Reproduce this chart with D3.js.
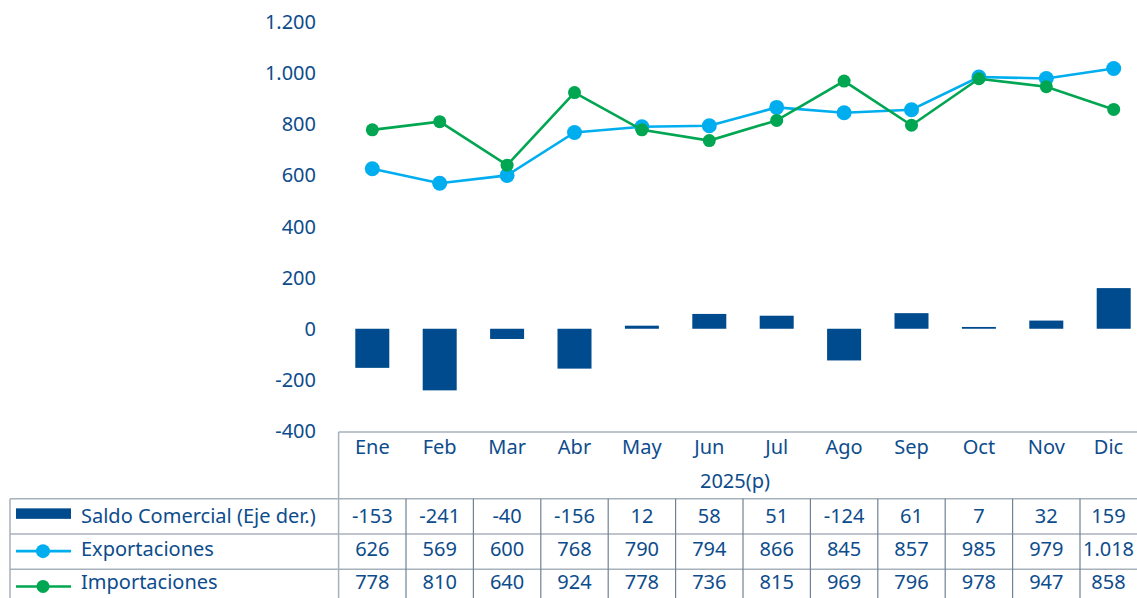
<!DOCTYPE html>
<html>
<head>
<meta charset="utf-8">
<script src="https://cdn.jsdelivr.net/npm/d3@7.9.0/dist/d3.min.js"></script>
<style>
  html, body { margin: 0; padding: 0; background: #fff; }
  svg { display: block; font-family: "Noto Sans", sans-serif; }
  .lbl { fill: #0d4c8c; font-size: 20px; }
</style>
</head>
<body>
<svg id="chart" width="1137" height="598"></svg>
<script>
const months = ['Ene', 'Feb', 'Mar', 'Abr', 'May', 'Jun', 'Jul', 'Ago', 'Sep', 'Oct', 'Nov', 'Dic'];
const saldo = [-153, -241, -40, -156, 12, 58, 51, -124, 61, 7, 32, 159];
const exportaciones = [626, 569, 600, 768, 790, 794, 866, 845, 857, 985, 979, 1018];
const importaciones = [778, 810, 640, 924, 778, 736, 815, 969, 796, 978, 947, 858];
const yTicks = [-400, -200, 0, 200, 400, 600, 800, 1000, 1200];
const yearLabel = '2025(p)';

const locale = d3.formatLocale({ decimal: ',', thousands: '.', grouping: [3], currency: ['', ''] });
const fmt = locale.format(',d');
const fmtNum = v => fmt(v).replace('−', '-');

const svg = d3.select('#chart');
const W = 1137;
const tableLeft = 10, colLeft = 338.6, colW = 67.4;

const x = d3.scaleBand().domain(months).range([colLeft, colLeft + colW * months.length]).padding(0);
const y = d3.scaleLinear().domain([-400, 1200]).range([431, 22]);

const blue = '#00aeef', green = '#00a651', navy = '#004b8d';
const gridCol = '#a7b1bb', vCol = '#6f8296';

// y axis labels (no line)
svg.append('g').selectAll('text').data(yTicks).join('text')
  .attr('class', 'lbl')
  .attr('x', 316)
  .attr('y', d => y(d))
  .attr('dy', '0.35em')
  .attr('text-anchor', 'end')
  .text(d => fmtNum(d));

// bars
const bw = 34;
svg.append('g').selectAll('rect').data(saldo).join('rect')
  .attr('x', (d, i) => x(months[i]) + x.bandwidth() / 2 - bw / 2)
  .attr('width', bw)
  .attr('y', d => y(Math.max(0, d)))
  .attr('height', d => Math.abs(y(d) - y(0)))
  .attr('fill', navy);

// lines
const cx = i => x(months[i]) + x.bandwidth() / 2;
const line = d3.line().x((d, i) => cx(i)).y(d => y(d));

function series(vals, color, r) {
  const g = svg.append('g');
  g.append('path').datum(vals).attr('d', line)
    .attr('fill', 'none').attr('stroke', color).attr('stroke-width', 2.6);
  g.selectAll('circle').data(vals).join('circle')
    .attr('cx', (d, i) => cx(i)).attr('cy', d => y(d)).attr('r', r).attr('fill', color);
}
series(exportaciones, blue, 7.5);
series(importaciones, green, 6.5);

// data table
const tTop = 432, r1 = 498.7, rowH = 35.3;
const rightX = colLeft + colW * months.length;
// text centred in the visible part of each column (last one is cut by the frame)
const tx = m => (x(m) + Math.min(x(m) + x.bandwidth(), W)) / 2;
const t = svg.append('g');

t.append('line').attr('x1', colLeft).attr('x2', rightX).attr('y1', tTop).attr('y2', tTop)
  .attr('stroke', gridCol).attr('stroke-width', 1.5);
[0, 1, 2].forEach(k => {
  t.append('line').attr('x1', tableLeft).attr('x2', rightX)
    .attr('y1', r1 + k * rowH).attr('y2', r1 + k * rowH)
    .attr('stroke', gridCol).attr('stroke-width', 1.5);
});
t.append('line').attr('x1', colLeft).attr('x2', colLeft).attr('y1', tTop).attr('y2', 598)
  .attr('stroke', gridCol).attr('stroke-width', 1.5);
t.append('line').attr('x1', tableLeft).attr('x2', tableLeft).attr('y1', r1).attr('y2', 598)
  .attr('stroke', gridCol).attr('stroke-width', 1.5);
months.slice(1).forEach(m => {
  t.append('line').attr('x1', x(m)).attr('x2', x(m)).attr('y1', r1).attr('y2', 598)
    .attr('stroke', vCol).attr('stroke-width', 1.2);
});

// header
t.selectAll('text.month').data(months).join('text')
  .attr('class', 'lbl month')
  .attr('x', d => tx(d))
  .attr('y', 447).attr('dy', '0.35em')
  .attr('text-anchor', 'middle')
  .text(d => d);
t.append('text').attr('class', 'lbl')
  .attr('x', 735).attr('y', 481).attr('dy', '0.35em').attr('text-anchor', 'middle')
  .text(yearLabel);

// rows
const rows = [
  { name: 'Saldo Comercial (Eje der.)', vals: saldo, key: 'bar', color: navy },
  { name: 'Exportaciones', vals: exportaciones, key: 'dot', color: blue, r: 7 },
  { name: 'Importaciones', vals: importaciones, key: 'dot', color: green, r: 6.5 }
];
rows.forEach((row, k) => {
  const cy = r1 + k * rowH + rowH / 2;
  const ty = r1 + 17.3 + k * 33;
  if (row.key === 'bar') {
    t.append('rect').attr('x', 16).attr('y', cy - 8).attr('width', 55).attr('height', 10.5).attr('fill', row.color);
  } else {
    t.append('line').attr('x1', 16).attr('x2', 71).attr('y1', cy - 0.5).attr('y2', cy - 0.5)
      .attr('stroke', row.color).attr('stroke-width', 2.6);
    t.append('circle').attr('cx', 43).attr('cy', cy - 0.5).attr('r', row.r).attr('fill', row.color);
  }
  t.append('text').attr('class', 'lbl').attr('x', 81).attr('y', ty).attr('dy', '0.35em').text(row.name);
  t.selectAll(null).data(row.vals).join('text')
    .attr('class', 'lbl')
    .attr('x', (d, i) => tx(months[i]))
    .attr('y', ty).attr('dy', '0.35em')
    .attr('text-anchor', 'middle')
    .text(d => fmtNum(d));
});
</script>
</body>
</html>
